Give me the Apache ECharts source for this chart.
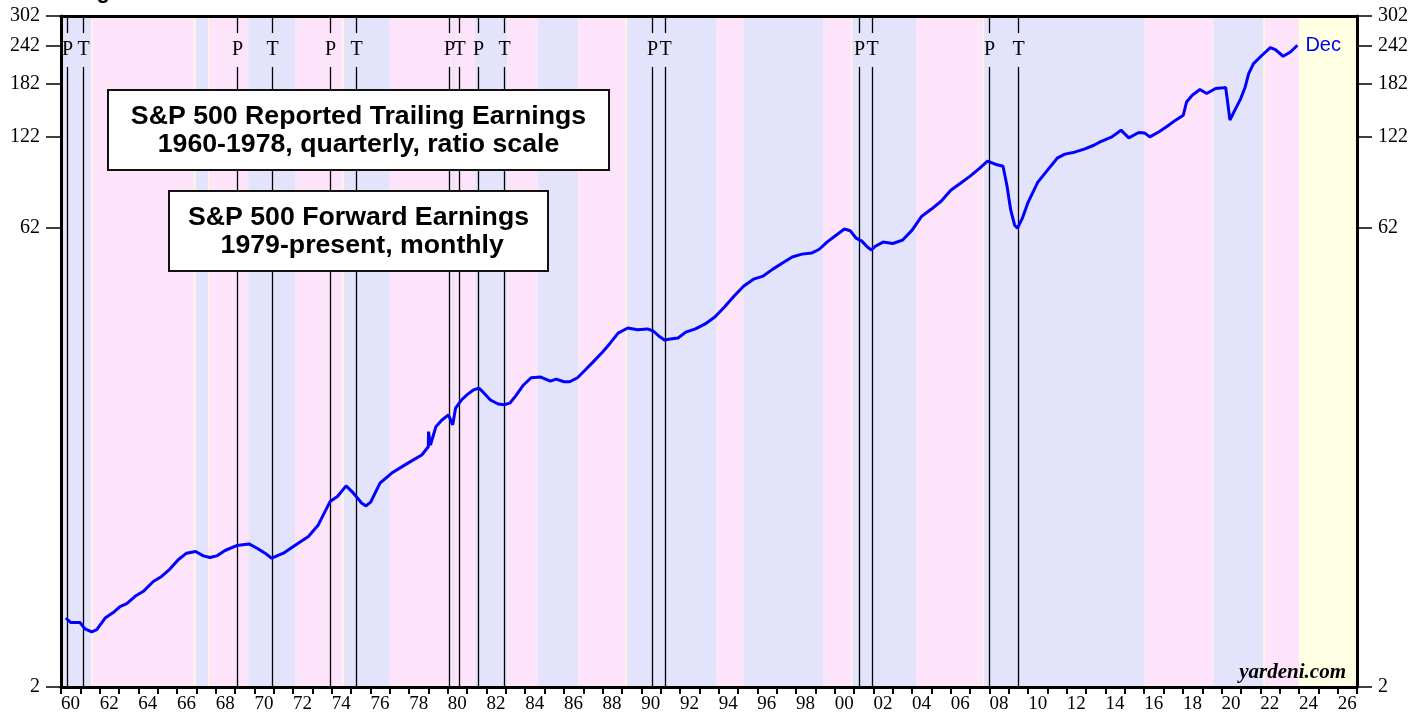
<!DOCTYPE html>
<html>
<head>
<meta charset="utf-8">
<script src="https://cdn.jsdelivr.net/npm/echarts@6/dist/echarts.min.js"></script>
<style>
html,body{margin:0;padding:0;background:#fff;}
#chart{width:1424px;height:717px;}
</style>
</head>
<body>
<div id="chart"></div>
<script>
// ---------- DATA ----------
// S&P 500 reported trailing earnings, 1960-1978 (quarterly), decimal years
var trailingDates = [1960.25,1960.5,1960.98,1961.24,1961.59,1961.85,1962.28,1962.7,1963.05,1963.4,1963.83,1964.26,1964.77,1965.2,1965.63,1966.06,1966.49,1966.96,1967.36,1967.7,1968.05,1968.48,1969.08,1969.72,1970.2,1970.55,1970.89,1971.5,1972.01,1972.79,1973.3,1973.91,1974.29,1974.74,1975.12,1975.55,1975.77,1976.01,1976.49,1977.1,1977.7,1978.13,1978.65,1978.99];
var trailingValues = [3.35,3.24,3.24,3.09,3.02,3.07,3.35,3.49,3.65,3.73,3.94,4.09,4.40,4.57,4.83,5.18,5.44,5.51,5.33,5.27,5.33,5.55,5.76,5.83,5.61,5.44,5.24,5.44,5.72,6.16,6.72,8.0,8.31,9.0,8.52,7.9,7.75,7.97,9.18,9.9,10.45,10.85,11.34,12.06];

// S&P 500 forward earnings, 1979-present (monthly, read at selected dates)
var forwardDates = [1979.0,1979.1,1979.38,1979.68,1980.03,1980.25,1980.4,1980.7,1981.0,1981.3,1981.6,1981.8,1982.2,1982.6,1982.9,1983.2,1983.5,1983.9,1984.3,1984.8,1985.3,1985.6,1986.0,1986.3,1986.7,1987.1,1987.5,1988.0,1988.4,1988.8,1989.3,1989.8,1990.3,1990.6,1990.9,1991.2,1991.5,1991.9,1992.3,1992.8,1993.3,1993.8,1994.3,1994.8,1995.3,1995.8,1996.3,1996.8,1997.3,1997.8,1998.3,1998.8,1999.2,1999.6,2000.0,2000.5,2000.8,2001.1,2001.4,2001.7,2001.9,2002.1,2002.5,2003.0,2003.5,2004.0,2004.5,2005.0,2005.5,2006.0,2006.5,2007.0,2007.5,2007.9,2008.3,2008.7,2008.9,2009.1,2009.3,2009.45,2009.7,2010.0,2010.5,2011.0,2011.5,2011.9,2012.4,2012.9,2013.4,2013.72,2014.33,2014.8,2015.2,2015.72,2016.01,2016.29,2016.75,2017.19,2017.62,2018.02,2018.19,2018.48,2018.88,2019.23,2019.69,2020.1,2020.21,2020.3,2020.43,2020.64,2020.99,2021.22,2021.4,2021.65,2022.09,2022.52,2022.78,2023.18,2023.56,2023.92];
var forwardValues = [13.5,12.2,14.0,14.7,15.3,14.2,16.1,17.1,17.8,18.4,18.7,18.2,17.1,16.6,16.5,16.7,17.6,19.1,20.2,20.3,19.7,20.0,19.6,19.6,20.2,21.4,22.7,24.5,26.2,28.2,29.3,28.9,29.1,28.7,27.6,26.8,27.0,27.2,28.4,29.1,30.2,31.8,34.3,37.2,40.1,42.2,43.2,45.5,47.6,49.8,50.9,51.3,52.8,55.7,58.2,61.4,60.6,57.4,56.1,53.6,52.5,54.0,55.7,55.1,56.5,60.9,67.6,71.3,75.6,82.1,86.5,91.2,96.8,102.0,99.7,98.2,85.2,70.7,63.2,61.8,66.6,75.1,87.2,95.4,104.3,107.5,109.1,111.6,114.9,117.8,122.3,128.6,121.4,126.4,126.0,122.3,126.9,132.4,138.6,143.8,158.8,167.0,174.3,169.2,175.6,176.6,177.0,160.8,138.6,147.4,162.9,177.7,196.4,211.6,225.2,238.5,235.0,223.5,230.8,242.6];

// Business cycle peaks (P) and troughs (T)
var cycleDates  = [1960.33,1961.15,1969.08,1970.93,1973.91,1975.25,1980.08,1980.58,1981.58,1982.9,1990.57,1991.23,2001.26,2001.92,2008.0,2009.5];
var cycleLabels = ['P','T','P','T','P','T','P','T','P','T','P','T','P','T','P','T'];

// Background shading periods (0 = pink, 1 = blue, 2 = yellow, 3 = thin pale line)
var bandStarts = [1960.0,1961.62,1966.95,1967.65,1969.68,1972.1,1974.6,1977.0,1980.27,1980.36,1981.41,1983.07,1984.63,1986.75,1989.25,1993.9,1995.28,1999.4,2000.9,2004.2,2007.72,2016.0,2019.58,2022.22,2024.0, 1961.58,1966.9,1967.6,1974.55,1989.2,2000.86,2007.68,2022.17];
var bandEnds   = [1961.58,1966.9,1967.6,1969.68,1972.1,1974.55,1977.0,1980.27,1980.36,1981.41,1983.07,1984.63,1986.75,1989.2,1993.9,1995.28,1999.4,2000.86,2004.2,2007.68,2016.0,2019.58,2022.17,2024.0,2027.0, 1961.63,1966.95,1967.65,1974.6,1989.25,2000.9,2007.72,2022.22];
var bandKinds  = [1,0,1,0,1,0,1,0,1,0,1,0,1,0,1,0,1,0,1,0,1,0,1,0,2, 3,3,3,3,3,3,3,3];

// Axis ticks
var yTicks = [2,62,122,182,242,302];
var xMin = 1960, xMax = 2027;

// ---------- CHART ----------
var bandColors = ['#fde4fb','#e3e3fb','#ffffe4','#fffbd2'];
var chart = echarts.init(document.getElementById('chart'), null, {renderer:'canvas'});

var lineData = trailingDates.map(function(d,i){return [d, trailingValues[i]];})
  .concat(forwardDates.map(function(d,i){return [d, forwardValues[i]];}));

var bandData = bandStarts.map(function(s,i){return [s, bandEnds[i], bandKinds[i]];});

var serif = '"Liberation Serif", "Times New Roman", serif';
var sans = '"Liberation Sans", Arial, sans-serif';

var yAxisBase = function(pos){
  return {
    type:'log', logBase: 10, min: 2, max: 302, position: pos, z: 10,
    axisLine:{show:true, lineStyle:{color:'#000', width:3}},
    axisTick:{show:true, inside:false, length:15, customValues: yTicks, lineStyle:{color:'#000', width:1.5}},
    axisLabel:{show:true, customValues: yTicks, margin: 21, color:'#000', fontSize:20, fontFamily: serif,
      formatter: function(v){ return String(Math.round(v)); }},
    splitLine:{show:false}, minorTick:{show:false}, minorSplitLine:{show:false}
  };
};

var option = {
  animation:false,
  backgroundColor:'#ffffff',
  grid:{left:61, right:67, top:16, bottom:30, containLabel:false},
  xAxis:[{
    type:'value', min:xMin, max:xMax, interval:1, position:'bottom', z:10,
    axisLine:{show:true, onZero:false, lineStyle:{color:'#000', width:3}},
    axisTick:{show:true, inside:false, length:7, lineStyle:{color:'#000', width:2}},
    axisLabel:{show:true, margin:8, align:'left', color:'#000', fontSize:19, fontFamily: serif,
      formatter:function(v){ v = Math.round(v); if (v % 2 !== 0 || v > 2026) return ''; var s = String(v % 100); return s.length<2 ? '0'+s : s; }},
    splitLine:{show:false}
  },{
    type:'value', min:xMin, max:xMax, position:'top', z:10,
    axisLine:{show:true, onZero:false, lineStyle:{color:'#000', width:3}},
    axisTick:{show:false}, axisLabel:{show:false}, splitLine:{show:false}
  }],
  yAxis:[yAxisBase('left'), yAxisBase('right')],
  series:[
    {
      type:'custom', name:'bands', xAxisIndex:0, yAxisIndex:0, z:1, silent:true,
      data: bandData,
      encode:{x:[0,1]},
      renderItem:function(params, api){
        var cs = params.coordSys;
        var x0 = api.coord([api.value(0), 10])[0];
        var x1 = api.coord([api.value(1), 10])[0];
        return {type:'rect', shape:{x:x0, y:cs.y, width:Math.max(x1-x0, 0.8), height:cs.height},
          style:{fill: bandColors[api.value(2)]}};
      }
    },
    {
      type:'custom', name:'cycles', xAxisIndex:0, yAxisIndex:0, z:2, silent:true,
      data: cycleDates.map(function(d){return [d];}),
      encode:{x:0},
      renderItem:function(params, api){
        var cs = params.coordSys;
        var x = Math.round(api.coord([api.value(0), 10])[0]) + 0.5;
        var lbl = cycleLabels[params.dataIndex];
        return {type:'group', children:[
          {type:'line', shape:{x1:x, y1:cs.y, x2:x, y2:cs.y+17}, style:{stroke:'#000', lineWidth:1.3}},
          {type:'line', shape:{x1:x, y1:cs.y+51, x2:x, y2:cs.y+cs.height}, style:{stroke:'#000', lineWidth:1.3}},
          {type:'text', x:x, y:cs.y+34, style:{text:lbl, fill:'#000', font:'20px ' + serif, align:'center', verticalAlign:'middle'}}
        ]};
      }
    },
    {
      type:'line', name:'S&P 500 Earnings', xAxisIndex:0, yAxisIndex:0, z:3,
      data: lineData, showSymbol:false, symbol:'none', smooth:false,
      lineStyle:{color:'#0000ff', width:3},
      endLabel:{show:true, formatter:'Dec', color:'#0000ff', fontSize:20, fontFamily:sans, distance:8}
    }
  ],
  graphic:[
    {type:'text', zlevel:1, z:100, x:77, y:-19, style:{text:'Figure 1.', fill:'#000', font:'bold 22px ' + sans}},
    {type:'rect', zlevel:1, z:100, shape:{x:108, y:90, width:501, height:80}, style:{fill:'#ffffff', stroke:'#111', lineWidth:2}},
    {type:'text', zlevel:1, z:101, x:358.5, y:131, style:{text:'S&P 500 Reported Trailing Earnings\n1960-1978, quarterly, ratio scale',
        fill:'#000', font:'bold 26.7px ' + sans, lineHeight:28, align:'center', verticalAlign:'middle'}},
    {type:'rect', zlevel:1, z:100, shape:{x:169, y:191, width:379, height:80}, style:{fill:'#ffffff', stroke:'#111', lineWidth:2}},
    {type:'text', zlevel:1, z:101, x:358.5, y:232, style:{text:'S&P 500 Forward Earnings\n 1979-present, monthly',
        fill:'#000', font:'bold 26.7px ' + sans, lineHeight:28, align:'center', verticalAlign:'middle'}},
    {type:'text', zlevel:1, z:100, x:1346, y:673, style:{text:'yardeni.com', fill:'#000', font:'italic bold 21px ' + serif, align:'right', verticalAlign:'middle'}}
  ]
};
chart.setOption(option);
</script>
</body>
</html>
